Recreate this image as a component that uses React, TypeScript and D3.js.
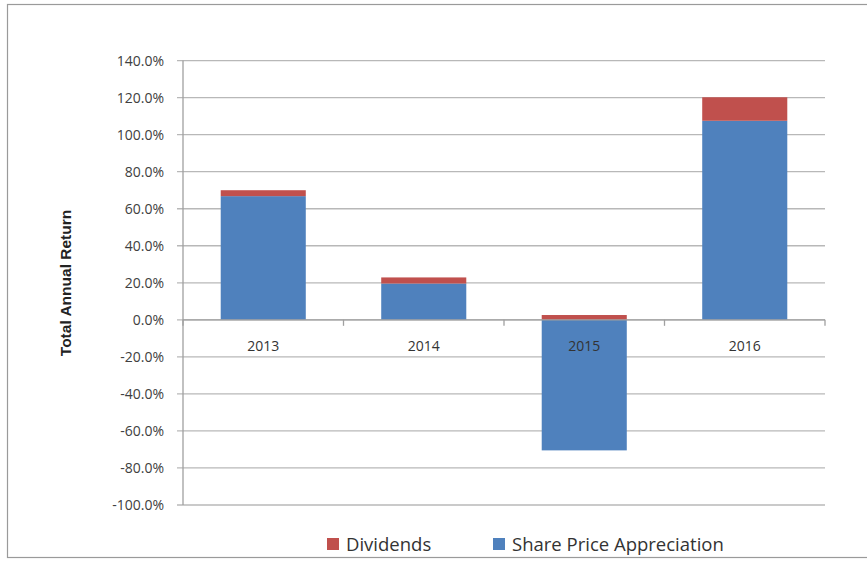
import React from "react";
import * as d3 from "d3";

const categories = ["2013", "2014", "2015", "2016"];
const shareAppreciation = [66.8, 19.6, -70.5, 107.5];
const dividends = [3.2, 3.3, 2.6, 12.7];
const yTicks = [140, 120, 100, 80, 60, 40, 20, 0, -20, -40, -60, -80, -100];
const seriesNames = ["Dividends", "Share Price Appreciation"];
const colors = { Dividends: "#C0504D", "Share Price Appreciation": "#4F81BD" };

const W = 867, H = 563;
const plot = { left: 183, right: 825, top: 60.6, bottom: 505 };
const FONT = "'Open Sans', 'DejaVu Sans', sans-serif";

export default function App() {
  const x = d3.scaleBand().domain(categories).range([plot.left, plot.right]).paddingInner(0.47).paddingOuter(0.235);
  const xb = d3.scaleBand().domain(categories).range([plot.left, plot.right]);
  const y = d3.scaleLinear().domain([-100, 140]).range([plot.bottom, plot.top]);

  return (
    <svg width={W} height={H} style={{ position: "absolute", left: 0, top: 0, background: "#fff" }}>
      <rect x={7.5} y={4.5} width={880} height={553} fill="#fff" stroke="#9a9a9a" strokeWidth={1.2} />
      {yTicks.map((t) => (
        <g key={t}>
          <line x1={plot.left - 6} x2={plot.right} y1={y(t)} y2={y(t)} stroke="#b8b8b8" strokeWidth={1.3} />
          <text x={plot.left - 19} y={y(t)} dy="0.35em" textAnchor="end" fontFamily={FONT} fontSize={14} fill="#404040">
            {t.toFixed(1) + "%"}
          </text>
        </g>
      ))}
      <line x1={plot.left} x2={plot.left} y1={plot.top} y2={plot.bottom} stroke="#a0a0a0" strokeWidth={1.3} />
      {categories.map((c, i) => {
        const s = shareAppreciation[i];
        const d = dividends[i];
        const posBase = s > 0 ? s : 0;
        return (
          <g key={c}>
            <rect x={x(c)} width={x.bandwidth()} y={y(Math.max(s, 0))} height={Math.abs(y(s) - y(0))} fill={colors["Share Price Appreciation"]} />
            <rect x={x(c)} width={x.bandwidth()} y={y(posBase + d)} height={y(posBase) - y(posBase + d)} fill={colors.Dividends} />
          </g>
        );
      })}
      <line x1={plot.left} x2={plot.right} y1={y(0)} y2={y(0)} stroke="#a0a0a0" strokeWidth={1.3} />
      {[...categories.map((c) => xb(c) as number), plot.right].map((v, i) => (
        <line key={i} x1={v} x2={v} y1={y(0)} y2={y(0) + 6} stroke="#a0a0a0" strokeWidth={1.3} />
      ))}
      {categories.map((c) => (
        <text key={c} x={(xb(c) as number) + xb.bandwidth() / 2} y={y(0) + 31} textAnchor="middle" fontFamily={FONT} fontSize={14} fill="#333">
          {c}
        </text>
      ))}
      <text transform={`translate(70.5,${283}) rotate(-90)`} textAnchor="middle" fontFamily="'Liberation Sans', Arial, sans-serif" fontSize={15.5} fontWeight="bold" fill="#222">
        Total Annual Return
      </text>
      {seriesNames.map((n, i) => {
        const lx = i === 0 ? 327 : 493;
        return (
          <g key={n}>
            <rect x={lx} y={538} width={12} height={12} fill={colors[n as keyof typeof colors]} />
            <text x={lx + 19} y={551} fontFamily={FONT} fontSize={18.5} fill="#333">{n}</text>
          </g>
        );
      })}
    </svg>
  );
}
